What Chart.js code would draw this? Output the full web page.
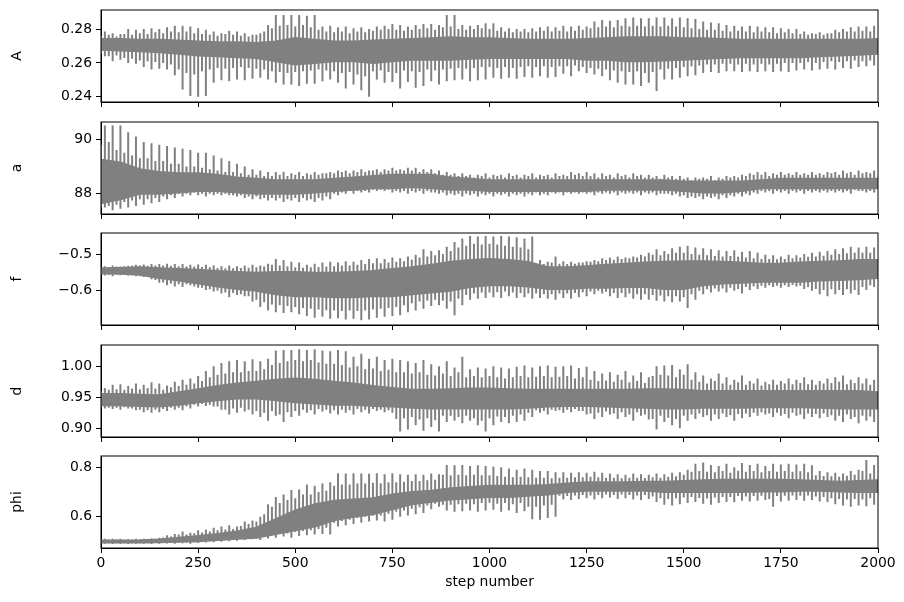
<!DOCTYPE html>
<html><head><meta charset="utf-8">
<script src="https://cdn.jsdelivr.net/npm/chart.js@4/dist/chart.umd.min.js"></script>
<style>html,body{margin:0;padding:0;background:#fff;width:904px;height:602px;overflow:hidden;position:relative}
canvas{position:absolute;left:0}</style></head><body>
<script>
// ---- step positions (x categories) ----
const coreSteps = Array.from({length: 41}, (_, i) => i * 50);
const spikeSteps = Array.from({length: 100}, (_, i) => 10 + i * 20);
const midSteps = Array.from({length: 100}, (_, i) => i * 20);

// ---- parameter names ----
const labels = ['A', 'a', 'f', 'd', 'phi'];

// ---- A ----
const A_coreHi = [.2745,.2745,.2740,.2740,.2735,.2730,.2725,.2725,.2720,.2730,.2750,.2740,.2730,.2730,.2735,.2740,.2745,.2750,.2755,.2750,.2750,.2745,.2740,.2740,.2740,.2745,.2750,.2755,.2755,.2755,.2750,.2750,.2745,.2740,.2740,.2740,.2740,.2740,.2740,.2740,.2745];
const A_coreLo = [.2680,.2675,.2670,.2665,.2655,.2645,.2640,.2635,.2630,.2610,.2590,.2600,.2610,.2610,.2600,.2610,.2620,.2620,.2620,.2625,.2630,.2630,.2630,.2630,.2630,.2620,.2620,.2610,.2610,.2615,.2620,.2625,.2630,.2635,.2635,.2635,.2635,.2640,.2645,.2650,.2655];
const A_spikeHi = [.2790,.2780,.2775,.2805,.2800,.2805,.2810,.2805,.2815,.2825,
.2825,.2820,.2810,.2800,.2790,.2780,.2795,.2790,.2780,.2770,
.2780,.2830,.2890,.2890,.2890,.2890,.2885,.2890,.2820,.2825,
.2815,.2820,.2810,.2815,.2805,.2820,.2825,.2835,.2830,.2820,
.2830,.2835,.2835,.2830,.2890,.2890,.2830,.2825,.2830,.2840,
.2840,.2815,.2810,.2805,.2805,.2810,.2815,.2820,.2815,.2825,
.2820,.2825,.2820,.2850,.2860,.2855,.2860,.2870,.2875,.2870,
.2870,.2875,.2875,.2870,.2875,.2870,.2865,.2850,.2845,.2840,
.2830,.2825,.2820,.2825,.2820,.2815,.2815,.2810,.2805,.2805,
.2790,.2780,.2785,.2780,.2800,.2805,.2815,.2820,.2820,.2825];
const A_spikeLo = [.2640,.2610,.2620,.2600,.2595,.2575,.2560,.2565,.2560,.2525,
.2440,.2400,.2395,.2400,.2480,.2495,.2490,.2500,.2495,.2505,
.2510,.2500,.2480,.2470,.2470,.2460,.2475,.2475,.2490,.2500,
.2480,.2445,.2470,.2435,.2395,.2500,.2480,.2485,.2445,.2485,
.2450,.2460,.2490,.2470,.2490,.2495,.2500,.2490,.2495,.2500,
.2510,.2505,.2510,.2505,.2515,.2510,.2520,.2510,.2515,.2535,
.2520,.2550,.2540,.2530,.2520,.2495,.2480,.2470,.2470,.2460,
.2480,.2430,.2500,.2500,.2510,.2520,.2525,.2540,.2545,.2540,
.2550,.2550,.2545,.2550,.2545,.2550,.2545,.2550,.2545,.2555,
.2560,.2555,.2560,.2565,.2560,.2570,.2565,.2575,.2580,.2585];
const A_midHi = [.2765,.2770,.2760,.2775,.2770,.2780,.2775,.2785,.2780,.2790,
.2785,.2790,.2780,.2775,.2770,.2765,.2775,.2770,.2765,.2760,
.2770,.2790,.2810,.2825,.2830,.2820,.2830,.2815,.2800,.2790,
.2785,.2790,.2780,.2790,.2785,.2795,.2800,.2805,.2800,.2795,
.2800,.2805,.2810,.2800,.2815,.2820,.2805,.2800,.2805,.2810,
.2805,.2795,.2790,.2785,.2790,.2785,.2790,.2795,.2790,.2795,
.2790,.2795,.2800,.2810,.2815,.2820,.2815,.2825,.2820,.2825,
.2820,.2825,.2820,.2825,.2820,.2815,.2810,.2805,.2800,.2800,
.2795,.2790,.2795,.2790,.2785,.2790,.2785,.2780,.2785,.2780,
.2775,.2770,.2775,.2770,.2780,.2785,.2790,.2790,.2795,.2790];
const A_midLo = [.2655,.2640,.2645,.2630,.2625,.2615,.2610,.2605,.2600,.2590,
.2560,.2540,.2530,.2550,.2560,.2570,.2565,.2570,.2575,.2570,
.2565,.2560,.2550,.2545,.2540,.2545,.2550,.2555,.2560,.2555,
.2550,.2540,.2545,.2530,.2520,.2550,.2555,.2545,.2540,.2555,
.2550,.2545,.2560,.2555,.2560,.2565,.2570,.2565,.2570,.2575,
.2575,.2570,.2575,.2570,.2575,.2580,.2575,.2580,.2575,.2580,
.2580,.2585,.2575,.2570,.2565,.2560,.2555,.2550,.2545,.2550,
.2540,.2545,.2560,.2565,.2570,.2575,.2580,.2585,.2590,.2590,
.2595,.2595,.2590,.2595,.2590,.2595,.2590,.2595,.2600,.2600,
.2600,.2605,.2600,.2605,.2610,.2605,.2610,.2615,.2610,.2615];
const A_ticks = [0.24, 0.26, 0.28];
const A_limits = [0.2364, 0.292];

// ---- a ----
const a_coreHi = [89.25,89.15,88.9,88.8,88.75,88.75,88.7,88.6,88.55,88.5,88.5,88.5,88.55,88.6,88.65,88.7,88.7,88.7,88.6,88.55,88.5,88.5,88.5,88.5,88.5,88.5,88.5,88.5,88.5,88.5,88.45,88.45,88.45,88.45,88.5,88.55,88.55,88.55,88.55,88.55,88.55];
const a_coreLo = [87.65,87.8,88.0,88.0,88.05,88.1,88.1,88.05,88.0,88.0,88.0,88.05,88.1,88.15,88.2,88.2,88.25,88.2,88.15,88.15,88.1,88.1,88.1,88.1,88.1,88.1,88.15,88.15,88.15,88.15,88.1,88.05,88.05,88.1,88.2,88.2,88.2,88.2,88.2,88.2,88.2];
const a_spikeHi = [90.5,90.5,90.5,90.25,90.1,89.9,89.85,89.8,89.75,89.7,
89.65,89.6,89.5,89.5,89.4,89.3,89.2,89.1,89.0,88.9,
88.85,88.8,88.8,88.8,88.75,88.8,88.75,88.8,88.75,88.8,
88.85,88.85,88.85,88.9,88.85,88.9,88.9,88.95,88.9,88.95,
88.95,88.9,88.9,88.85,88.8,88.75,88.75,88.7,88.7,88.75,
88.7,88.7,88.75,88.7,88.7,88.75,88.7,88.7,88.75,88.7,
88.8,88.75,88.8,88.75,88.75,88.7,88.75,88.7,88.75,88.7,
88.7,88.65,88.7,88.65,88.65,88.6,88.6,88.6,88.65,88.6,
88.65,88.65,88.7,88.75,88.8,88.8,88.75,88.8,88.75,88.8,
88.75,88.8,88.75,88.8,88.8,88.85,88.8,88.85,88.8,88.85];
const a_spikeLo = [87.5,87.4,87.45,87.5,87.55,87.6,87.65,87.7,87.8,87.85,
87.9,87.95,87.95,87.9,87.95,87.95,87.95,87.9,87.85,87.8,
87.8,87.75,87.75,87.7,87.75,87.7,87.75,87.7,87.75,87.8,
87.95,88.0,88.0,88.05,88.05,88.1,88.1,88.05,88.05,88.0,
88.05,88.0,88.05,88.0,87.95,87.95,87.9,87.95,87.9,87.95,
87.9,87.95,87.9,87.95,87.9,87.95,87.95,87.95,88.0,87.95,
88.0,88.0,88.0,87.95,88.0,88.0,87.95,88.0,88.0,87.95,
88.0,87.95,88.0,87.95,87.9,87.85,87.85,87.8,87.85,87.8,
87.85,87.9,87.9,87.95,88.0,88.05,88.0,88.05,88.0,88.05,
88.0,88.05,88.05,88.05,88.05,88.05,88.0,88.1,88.05,88.05];
const a_midHi = [89.8,89.9,89.6,89.5,89.4,89.3,89.3,89.2,89.2,89.1,
89.1,89.0,89.0,88.95,88.9,88.85,88.8,88.8,88.75,88.7,
88.7,88.65,88.65,88.7,88.65,88.7,88.65,88.7,88.7,88.75,
88.75,88.8,88.75,88.8,88.8,88.85,88.8,88.85,88.85,88.85,
88.85,88.8,88.8,88.75,88.7,88.7,88.65,88.65,88.6,88.65,
88.6,88.65,88.6,88.65,88.6,88.65,88.6,88.65,88.6,88.65,
88.65,88.7,88.65,88.65,88.6,88.65,88.6,88.65,88.6,88.65,
88.6,88.6,88.55,88.6,88.55,88.55,88.5,88.55,88.55,88.5,
88.55,88.6,88.6,88.65,88.7,88.7,88.65,88.7,88.7,88.7,
88.7,88.7,88.7,88.7,88.75,88.7,88.75,88.7,88.75,88.75];
const a_midLo = [87.5,87.55,87.6,87.7,87.75,87.8,87.8,87.85,87.9,87.95,
88.0,88.0,88.05,88.0,88.0,88.0,88.0,87.95,87.95,87.9,
87.9,87.85,87.85,87.85,87.8,87.85,87.85,87.8,87.85,87.9,
88.0,88.05,88.1,88.1,88.1,88.15,88.15,88.15,88.1,88.1,
88.1,88.1,88.1,88.05,88.05,88.0,88.0,88.0,88.0,88.0,
88.0,88.0,88.0,88.0,88.0,88.0,88.05,88.0,88.05,88.05,
88.05,88.05,88.05,88.05,88.05,88.05,88.05,88.05,88.05,88.05,
88.05,88.05,88.0,88.0,88.0,87.95,87.9,87.9,87.9,87.9,
87.95,87.95,88.0,88.0,88.05,88.1,88.1,88.1,88.1,88.1,
88.1,88.1,88.1,88.1,88.1,88.1,88.1,88.15,88.1,88.1];
const a_ticks = [88, 90];
const a_limits = [87.26, 90.63];

// ---- f ----
const f_coreHi = [-0.538,-0.537,-0.535,-0.538,-0.540,-0.542,-0.545,-0.548,-0.550,-0.548,-0.548,-0.550,-0.550,-0.548,-0.545,-0.540,-0.535,-0.528,-0.520,-0.515,-0.512,-0.515,-0.520,-0.535,-0.535,-0.532,-0.528,-0.525,-0.522,-0.520,-0.518,-0.518,-0.520,-0.522,-0.525,-0.525,-0.522,-0.520,-0.518,-0.515,-0.515];
const f_coreLo = [-0.552,-0.553,-0.556,-0.565,-0.572,-0.580,-0.588,-0.595,-0.600,-0.610,-0.615,-0.615,-0.618,-0.618,-0.615,-0.615,-0.610,-0.605,-0.600,-0.590,-0.585,-0.585,-0.588,-0.595,-0.595,-0.592,-0.592,-0.590,-0.590,-0.595,-0.595,-0.585,-0.580,-0.578,-0.575,-0.575,-0.575,-0.572,-0.570,-0.568,-0.565];
const f_spikeHi = [-0.532,-0.530,-0.533,-0.531,-0.528,-0.527,-0.526,-0.526,-0.525,-0.526,
-0.526,-0.528,-0.527,-0.528,-0.530,-0.532,-0.530,-0.532,-0.530,-0.528,
-0.530,-0.525,-0.512,-0.515,-0.520,-0.522,-0.528,-0.525,-0.522,-0.520,
-0.522,-0.518,-0.520,-0.515,-0.512,-0.510,-0.512,-0.508,-0.510,-0.505,
-0.500,-0.485,-0.490,-0.488,-0.478,-0.465,-0.455,-0.448,-0.450,-0.448,
-0.450,-0.448,-0.450,-0.452,-0.455,-0.450,-0.515,-0.520,-0.505,-0.518,
-0.520,-0.522,-0.518,-0.515,-0.510,-0.508,-0.505,-0.508,-0.505,-0.500,
-0.495,-0.485,-0.490,-0.482,-0.478,-0.475,-0.480,-0.482,-0.485,-0.488,
-0.490,-0.488,-0.492,-0.490,-0.495,-0.500,-0.502,-0.505,-0.500,-0.502,
-0.498,-0.495,-0.492,-0.490,-0.485,-0.482,-0.478,-0.480,-0.478,-0.480];
const f_spikeLo = [-0.558,-0.560,-0.557,-0.558,-0.560,-0.562,-0.568,-0.578,-0.585,-0.588,
-0.590,-0.585,-0.592,-0.598,-0.602,-0.608,-0.618,-0.612,-0.615,-0.630,
-0.645,-0.655,-0.660,-0.662,-0.660,-0.665,-0.670,-0.675,-0.672,-0.678,
-0.676,-0.680,-0.678,-0.682,-0.680,-0.675,-0.672,-0.670,-0.668,-0.660,
-0.655,-0.650,-0.642,-0.640,-0.650,-0.668,-0.640,-0.625,-0.622,-0.620,
-0.618,-0.620,-0.615,-0.620,-0.618,-0.622,-0.620,-0.622,-0.625,-0.620,
-0.622,-0.618,-0.615,-0.610,-0.608,-0.615,-0.620,-0.618,-0.622,-0.625,
-0.625,-0.628,-0.630,-0.632,-0.630,-0.648,-0.625,-0.610,-0.605,-0.602,
-0.605,-0.600,-0.608,-0.598,-0.595,-0.592,-0.590,-0.592,-0.590,-0.588,
-0.595,-0.600,-0.610,-0.615,-0.610,-0.612,-0.608,-0.612,-0.598,-0.590];
const f_midHi = [-0.534,-0.534,-0.533,-0.532,-0.531,-0.530,-0.531,-0.530,-0.530,-0.531,
-0.532,-0.533,-0.533,-0.534,-0.535,-0.537,-0.538,-0.538,-0.537,-0.536,
-0.535,-0.533,-0.528,-0.530,-0.532,-0.535,-0.536,-0.535,-0.534,-0.533,
-0.532,-0.530,-0.530,-0.528,-0.526,-0.524,-0.524,-0.522,-0.520,-0.518,
-0.514,-0.508,-0.505,-0.502,-0.498,-0.490,-0.480,-0.475,-0.470,-0.472,
-0.470,-0.472,-0.475,-0.478,-0.480,-0.485,-0.525,-0.526,-0.522,-0.525,
-0.526,-0.525,-0.522,-0.520,-0.518,-0.515,-0.514,-0.512,-0.510,-0.508,
-0.505,-0.500,-0.502,-0.498,-0.495,-0.495,-0.498,-0.500,-0.502,-0.504,
-0.505,-0.504,-0.506,-0.508,-0.510,-0.512,-0.512,-0.513,-0.512,-0.510,
-0.508,-0.506,-0.505,-0.503,-0.500,-0.498,-0.496,-0.495,-0.495,-0.495];
const f_midLo = [-0.555,-0.556,-0.555,-0.556,-0.557,-0.560,-0.562,-0.570,-0.577,-0.580,
-0.582,-0.582,-0.588,-0.592,-0.596,-0.600,-0.605,-0.606,-0.610,-0.615,
-0.625,-0.632,-0.638,-0.640,-0.642,-0.645,-0.648,-0.650,-0.652,-0.654,
-0.655,-0.656,-0.655,-0.656,-0.655,-0.652,-0.650,-0.648,-0.645,-0.640,
-0.635,-0.630,-0.628,-0.625,-0.628,-0.630,-0.622,-0.612,-0.608,-0.605,
-0.605,-0.604,-0.602,-0.605,-0.606,-0.608,-0.608,-0.610,-0.610,-0.608,
-0.608,-0.606,-0.604,-0.602,-0.600,-0.603,-0.606,-0.606,-0.608,-0.610,
-0.610,-0.612,-0.613,-0.615,-0.615,-0.618,-0.610,-0.600,-0.596,-0.594,
-0.594,-0.592,-0.595,-0.590,-0.588,-0.586,-0.585,-0.586,-0.585,-0.584,
-0.586,-0.590,-0.595,-0.598,-0.596,-0.598,-0.596,-0.598,-0.590,-0.585];
const f_ticks = [-0.6, -0.5];
const f_limits = [-0.695, -0.44];

// ---- d ----
const d_coreHi = [0.955,0.955,0.954,0.953,0.958,0.963,0.968,0.972,0.975,0.978,0.980,0.978,0.975,0.972,0.968,0.965,0.962,0.962,0.963,0.964,0.964,0.963,0.962,0.962,0.962,0.962,0.962,0.962,0.963,0.963,0.962,0.960,0.960,0.960,0.960,0.960,0.960,0.960,0.960,0.960,0.958];
const d_coreLo = [0.937,0.937,0.936,0.935,0.938,0.942,0.945,0.948,0.948,0.945,0.942,0.940,0.938,0.938,0.936,0.935,0.933,0.932,0.932,0.932,0.932,0.932,0.933,0.935,0.936,0.936,0.935,0.934,0.933,0.932,0.932,0.933,0.933,0.933,0.934,0.934,0.934,0.933,0.932,0.932,0.932];
const d_spikeHi = [0.965,0.970,0.971,0.968,0.972,0.970,0.974,0.972,0.969,0.975,
0.978,0.980,0.984,0.992,1.000,1.005,1.008,1.010,1.008,1.011,
1.008,1.012,1.025,1.026,1.026,1.027,1.026,1.027,1.025,1.024,
1.026,1.024,1.015,1.020,1.012,1.015,1.010,1.012,1.010,1.008,
1.005,1.010,1.003,1.000,1.008,0.998,1.015,0.995,0.998,0.996,
1.000,0.998,0.996,0.999,1.001,0.998,1.000,1.001,0.999,1.000,
1.001,0.997,0.999,0.992,0.988,0.990,0.986,0.992,0.985,0.990,
0.982,1.000,1.001,1.002,0.995,1.003,0.990,0.985,0.980,0.988,
0.982,0.978,0.985,0.976,0.980,0.975,0.978,0.976,0.980,0.978,
0.982,0.978,0.976,0.980,0.982,0.985,0.978,0.982,0.980,0.978];
const d_spikeLo = [0.932,0.931,0.930,0.932,0.929,0.926,0.925,0.926,0.928,0.930,
0.929,0.932,0.935,0.936,0.935,0.930,0.922,0.925,0.927,0.922,
0.918,0.912,0.920,0.910,0.918,0.920,0.925,0.922,0.927,0.924,
0.922,0.925,0.922,0.926,0.924,0.928,0.926,0.925,0.895,0.898,
0.905,0.896,0.902,0.895,0.910,0.912,0.908,0.912,0.905,0.895,
0.905,0.910,0.908,0.910,0.912,0.918,0.925,0.922,0.928,0.925,
0.926,0.928,0.922,0.915,0.918,0.922,0.915,0.918,0.912,0.920,
0.914,0.898,0.910,0.905,0.900,0.912,0.915,0.918,0.912,0.915,
0.918,0.912,0.916,0.918,0.920,0.922,0.918,0.920,0.916,0.920,
0.915,0.918,0.916,0.918,0.912,0.910,0.915,0.908,0.912,0.910];
const d_midHi = [0.960,0.962,0.963,0.962,0.964,0.963,0.965,0.964,0.962,0.966,
0.968,0.970,0.972,0.976,0.982,0.986,0.988,0.990,0.990,0.992,
0.992,0.995,1.002,1.005,1.008,1.010,1.008,1.010,1.006,1.004,
1.004,1.002,0.998,1.000,0.995,0.996,0.992,0.994,0.990,0.990,
0.988,0.990,0.986,0.985,0.988,0.984,0.990,0.982,0.984,0.982,
0.984,0.982,0.980,0.982,0.984,0.982,0.983,0.984,0.982,0.983,
0.984,0.980,0.982,0.978,0.976,0.977,0.975,0.978,0.974,0.976,
0.973,0.984,0.986,0.985,0.982,0.986,0.978,0.975,0.972,0.976,
0.972,0.970,0.974,0.970,0.972,0.969,0.971,0.970,0.972,0.971,
0.973,0.971,0.970,0.972,0.973,0.975,0.971,0.973,0.972,0.970];
const d_midLo = [0.934,0.933,0.933,0.934,0.932,0.930,0.929,0.930,0.931,0.933,
0.933,0.935,0.938,0.939,0.938,0.935,0.930,0.932,0.933,0.930,
0.928,0.925,0.928,0.922,0.926,0.928,0.930,0.929,0.931,0.930,
0.929,0.930,0.929,0.931,0.930,0.931,0.930,0.929,0.915,0.916,
0.918,0.914,0.916,0.913,0.920,0.920,0.918,0.920,0.916,0.912,
0.916,0.919,0.918,0.920,0.922,0.925,0.929,0.928,0.930,0.929,
0.930,0.931,0.928,0.924,0.925,0.927,0.924,0.926,0.922,0.926,
0.922,0.915,0.920,0.917,0.915,0.920,0.922,0.924,0.921,0.922,
0.924,0.921,0.923,0.924,0.925,0.926,0.924,0.925,0.923,0.925,
0.922,0.924,0.923,0.924,0.921,0.920,0.922,0.918,0.920,0.919];
const d_ticks = [0.90, 0.95, 1.00];
const d_limits = [0.886, 1.034];

// ---- phi ----
const phi_coreHi = [0.503,0.503,0.504,0.507,0.515,0.522,0.530,0.540,0.555,0.590,0.625,0.650,0.665,0.670,0.675,0.690,0.700,0.705,0.715,0.720,0.725,0.725,0.725,0.728,0.735,0.740,0.740,0.740,0.742,0.742,0.745,0.748,0.750,0.750,0.750,0.750,0.748,0.745,0.742,0.745,0.748];
const phi_coreLo = [0.495,0.495,0.495,0.496,0.498,0.500,0.505,0.510,0.515,0.530,0.545,0.560,0.585,0.600,0.610,0.630,0.650,0.660,0.670,0.675,0.680,0.680,0.685,0.690,0.700,0.705,0.705,0.705,0.705,0.700,0.700,0.700,0.700,0.700,0.702,0.702,0.705,0.705,0.702,0.700,0.700];
const phi_spikeHi = [0.510,0.511,0.510,0.508,0.510,0.511,0.512,0.515,0.525,0.530,
0.540,0.535,0.545,0.548,0.555,0.560,0.565,0.560,0.580,0.585,
0.600,0.650,0.680,0.690,0.708,0.710,0.730,0.725,0.735,0.740,
0.776,0.775,0.776,0.775,0.774,0.776,0.772,0.776,0.772,0.770,
0.772,0.770,0.775,0.772,0.810,0.808,0.810,0.805,0.808,0.805,
0.802,0.800,0.795,0.790,0.795,0.790,0.785,0.785,0.780,0.780,
0.778,0.780,0.778,0.782,0.778,0.775,0.772,0.770,0.775,0.772,
0.770,0.775,0.772,0.778,0.780,0.790,0.815,0.820,0.810,0.805,
0.815,0.800,0.818,0.810,0.815,0.805,0.815,0.812,0.815,0.812,
0.815,0.808,0.785,0.780,0.778,0.775,0.785,0.790,0.830,0.810];
const phi_spikeLo = [0.490,0.489,0.490,0.489,0.490,0.490,0.489,0.490,0.491,0.490,
0.492,0.490,0.493,0.495,0.496,0.498,0.500,0.502,0.505,0.508,
0.505,0.512,0.515,0.520,0.515,0.522,0.525,0.528,0.530,0.528,
0.560,0.565,0.570,0.575,0.580,0.585,0.580,0.588,0.600,0.605,
0.610,0.615,0.630,0.640,0.625,0.620,0.622,0.625,0.620,0.625,
0.628,0.620,0.625,0.615,0.622,0.590,0.588,0.595,0.600,0.670,
0.668,0.672,0.675,0.670,0.675,0.678,0.672,0.675,0.670,0.668,
0.672,0.660,0.648,0.645,0.650,0.655,0.660,0.652,0.648,0.655,
0.660,0.658,0.665,0.662,0.665,0.668,0.640,0.662,0.665,0.668,
0.665,0.668,0.662,0.660,0.650,0.645,0.640,0.645,0.642,0.648];
const phi_midHi = [0.506,0.507,0.507,0.506,0.507,0.507,0.508,0.510,0.516,0.520,
0.528,0.528,0.533,0.536,0.540,0.545,0.548,0.550,0.562,0.570,
0.580,0.610,0.640,0.655,0.668,0.675,0.690,0.690,0.700,0.705,
0.725,0.730,0.730,0.735,0.735,0.738,0.736,0.740,0.740,0.742,
0.745,0.745,0.748,0.750,0.770,0.768,0.770,0.768,0.770,0.768,
0.768,0.765,0.762,0.760,0.762,0.760,0.758,0.758,0.756,0.758,
0.758,0.760,0.760,0.762,0.760,0.758,0.758,0.756,0.758,0.758,
0.757,0.760,0.758,0.762,0.764,0.770,0.782,0.785,0.782,0.780,
0.785,0.778,0.786,0.782,0.785,0.780,0.785,0.782,0.785,0.782,
0.784,0.780,0.768,0.765,0.764,0.762,0.766,0.770,0.785,0.775];
const phi_midLo = [0.493,0.492,0.492,0.492,0.492,0.492,0.492,0.493,0.494,0.494,
0.495,0.495,0.496,0.498,0.500,0.502,0.504,0.506,0.508,0.510,
0.510,0.518,0.525,0.530,0.532,0.538,0.542,0.545,0.550,0.555,
0.575,0.582,0.588,0.595,0.600,0.605,0.605,0.612,0.620,0.625,
0.632,0.638,0.645,0.652,0.648,0.648,0.650,0.652,0.650,0.655,
0.656,0.652,0.655,0.650,0.655,0.640,0.640,0.645,0.648,0.685,
0.684,0.686,0.688,0.686,0.688,0.690,0.688,0.690,0.688,0.686,
0.688,0.682,0.675,0.672,0.675,0.678,0.680,0.676,0.674,0.678,
0.680,0.680,0.684,0.682,0.684,0.685,0.672,0.684,0.685,0.686,
0.685,0.686,0.682,0.680,0.675,0.672,0.670,0.672,0.670,0.675];
const phi_ticks = [0.6, 0.8];
const phi_limits = [0.473, 0.846];

// ---- assemble panels from the named arrays ----
const panels = [
  {coreHi: A_coreHi, coreLo: A_coreLo, spikeHi: A_spikeHi, spikeLo: A_spikeLo, midHi: A_midHi, midLo: A_midLo, ticks: A_ticks, limits: A_limits, dec: 2},
  {coreHi: a_coreHi, coreLo: a_coreLo, spikeHi: a_spikeHi, spikeLo: a_spikeLo, midHi: a_midHi, midLo: a_midLo, ticks: a_ticks, limits: a_limits, dec: 0},
  {coreHi: f_coreHi, coreLo: f_coreLo, spikeHi: f_spikeHi, spikeLo: f_spikeLo, midHi: f_midHi, midLo: f_midLo, ticks: f_ticks, limits: f_limits, dec: 1},
  {coreHi: d_coreHi, coreLo: d_coreLo, spikeHi: d_spikeHi, spikeLo: d_spikeLo, midHi: d_midHi, midLo: d_midLo, ticks: d_ticks, limits: d_limits, dec: 2},
  {coreHi: phi_coreHi, coreLo: phi_coreLo, spikeHi: phi_spikeHi, spikeLo: phi_spikeLo, midHi: phi_midHi, midLo: phi_midLo, ticks: phi_ticks, limits: phi_limits, dec: 1}
];

// ---- layout / style ----
const GRAY = '#808080';
const FONT = {family: '"DejaVu Sans", sans-serif', size: 13.9};
const PLOT_LEFT = 101, PLOT_RIGHT = 878, PLOT_H = 92, PAD_TOP = 18;
const TOPS = [10, 121.5, 233, 344.5, 456];

const framePlugin = {
  id: 'frame',
  afterDatasetsDraw(chart) {
    const {ctx, chartArea: a} = chart;
    ctx.save();
    ctx.strokeStyle = '#000';
    ctx.lineWidth = 1;
    ctx.strokeRect(a.left, a.top, a.right - a.left, a.bottom - a.top);
    ctx.restore();
  }
};

function fmt(v, dec) {
  const s = Math.abs(v).toFixed(dec);
  return (v < 0 ? '\u2212' : '') + s;
}

function segPts(steps, lo, hi) {
  const pts = [];
  steps.forEach((s, i) => { pts.push({x: s, y: lo[i]}, {x: s, y: hi[i]}, {x: s, y: null}); });
  return pts;
}

panels.forEach((p, k) => {
  const isLast = k === panels.length - 1;
  const top = Math.round(TOPS[k]);
  const bottomSpace = isLast ? 602 - (top + PLOT_H) : 18;
  const c = document.createElement('canvas');
  const h = PAD_TOP + PLOT_H + bottomSpace;
  c.width = 904; c.height = h;
  c.style.width = '904px'; c.style.height = h + 'px';
  c.style.top = (top - PAD_TOP) + 'px';
  document.body.appendChild(c);

  const hiPts = coreSteps.map((s, i) => ({x: s, y: p.coreHi[i]}));
  const loPts = coreSteps.map((s, i) => ({x: s, y: p.coreLo[i]}));

  new Chart(c, {
    type: 'line',
    data: {datasets: [
      {data: hiPts, borderColor: GRAY, backgroundColor: GRAY, borderWidth: 2, pointRadius: 0, fill: '+1', tension: 0},
      {data: loPts, borderColor: GRAY, backgroundColor: GRAY, borderWidth: 2, pointRadius: 0, fill: false, tension: 0},
      {data: segPts(midSteps, p.midLo, p.midHi), borderColor: GRAY, borderWidth: 2, pointRadius: 0, fill: false, spanGaps: false, tension: 0},
      {data: segPts(spikeSteps, p.spikeLo, p.spikeHi), borderColor: GRAY, borderWidth: 2, pointRadius: 0, fill: false, spanGaps: false, tension: 0}
    ]},
    options: {
      responsive: false, animation: false, devicePixelRatio: 1,
      events: [],
      layout: {padding: {top: PAD_TOP, right: 904 - PLOT_RIGHT, left: 0, bottom: 0}},
      plugins: {legend: {display: false}, tooltip: {enabled: false}},
      scales: {
        x: {
          type: 'linear', min: 0, max: 2000,
          ticks: {stepSize: 250, color: isLast ? '#000' : 'rgba(0,0,0,0)', font: FONT, padding: 2, maxRotation: 0, autoSkip: false, callback: v => String(v)},
          grid: {drawOnChartArea: false, drawTicks: true, tickLength: 5, tickColor: '#000', tickWidth: 1},
          border: {display: true, color: '#000', width: 1},
          title: {display: isLast, text: 'step number', color: '#000', font: FONT, padding: {top: 0, bottom: 11}},
          afterFit: s => { s.height = bottomSpace; }
        },
        y: {
          min: p.limits[0], max: p.limits[1],
          afterBuildTicks: s => { s.ticks = p.ticks.map(v => ({value: v})); },
          ticks: {color: '#000', font: FONT, padding: 4, callback: v => fmt(v, p.dec)},
          grid: {drawOnChartArea: false, drawTicks: true, tickLength: 5, tickColor: '#000', tickWidth: 1},
          border: {display: true, color: '#000', width: 1},
          title: {display: true, text: labels[k], color: '#000', font: FONT, padding: {top: 9, bottom: 0}},
          afterFit: s => { s.width = PLOT_LEFT; }
        }
      }
    },
    plugins: [framePlugin]
  });
});
</script>
</body></html>
